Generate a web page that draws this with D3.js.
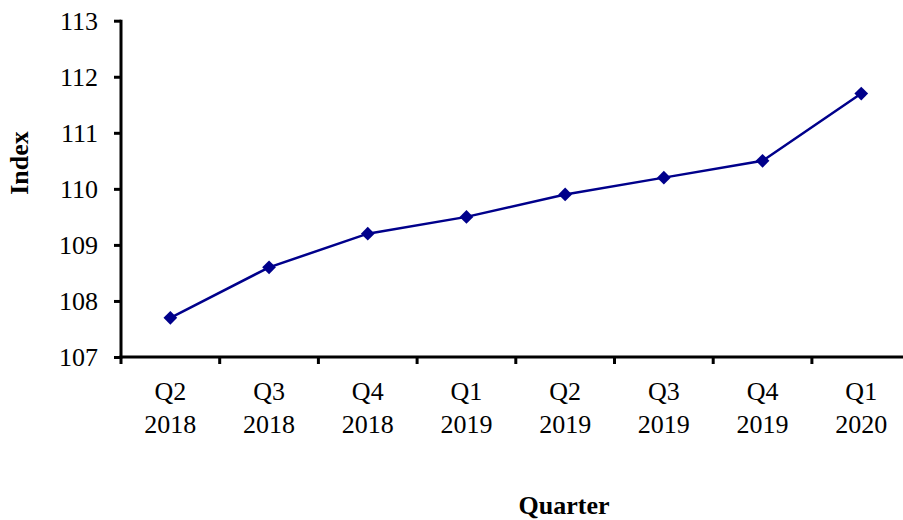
<!DOCTYPE html>
<html>
<head>
<meta charset="utf-8">
<script src="https://cdn.jsdelivr.net/npm/d3@7"></script>
<style>
  body { margin: 0; background: #fff; }
  text { font-family: "Liberation Serif", "Times New Roman", serif; }
</style>
</head>
<body>
<script>
// chart data
var quarters = ['Q2', 'Q3', 'Q4', 'Q1', 'Q2', 'Q3', 'Q4', 'Q1'];
var years = ['2018', '2018', '2018', '2019', '2019', '2019', '2019', '2020'];
var values = [107.7, 108.6, 109.2, 109.5, 109.9, 110.2, 110.5, 111.7];
var yTicks = [107, 108, 109, 110, 111, 112, 113];

var width = 903;
var height = 520;

var svg = d3.select('body').append('svg')
  .attr('width', width)
  .attr('height', height);

// x positions by category index
var keys = d3.range(values.length);
var x = d3.scaleBand()
  .domain(keys)
  .range([121, 121 + 98.7 * values.length]);

var y = d3.scaleLinear()
  .domain([107, 113])
  .range([357, 20.7]);

// y axis
var yAxis = svg.append('g')
  .attr('transform', 'translate(121,0)')
  .call(d3.axisLeft(y).tickValues(yTicks).tickSize(7).tickPadding(16).tickFormat(d3.format('d')));
yAxis.select('.domain')
  .style('stroke-width', '3px')
  .attr('d', 'M0,' + (y(113) - 1) + 'V' + (y(107) + 1.5));
yAxis.selectAll('.tick line').style('stroke-width', '3px');
yAxis.selectAll('.tick text')
  .attr('font-size', 26)
  .attr('dy', '0.34em')
  .attr('fill', '#000');

// x axis: ticks between categories
var xAxis = svg.append('g')
  .attr('transform', 'translate(0,357)');
xAxis.append('line')
  .attr('x1', 119.5).attr('x2', width)
  .attr('stroke', '#000').style('stroke-width', '3px');
xAxis.selectAll('.xtick')
  .data(keys)
  .enter().append('line')
  .attr('x1', function(d) { return x(d); })
  .attr('x2', function(d) { return x(d); })
  .attr('y1', 0).attr('y2', 7)
  .attr('stroke', '#000').style('stroke-width', '3px');

var labels = xAxis.selectAll('.xlabel')
  .data(keys)
  .enter().append('text')
  .attr('text-anchor', 'middle')
  .attr('font-size', 26)
  .attr('x', function(d) { return x(d) + x.bandwidth() / 2; });
labels.append('tspan')
  .attr('x', function(d) { return x(d) + x.bandwidth() / 2; })
  .attr('y', 43)
  .text(function(d) { return quarters[d]; });
labels.append('tspan')
  .attr('x', function(d) { return x(d) + x.bandwidth() / 2; })
  .attr('y', 76)
  .text(function(d) { return years[d]; });

// axis titles
svg.append('text')
  .attr('transform', 'translate(28,163) rotate(-90)')
  .attr('text-anchor', 'middle')
  .attr('font-size', 26)
  .attr('font-weight', 'bold')
  .text('Index');

svg.append('text')
  .attr('x', 564)
  .attr('y', 514)
  .attr('text-anchor', 'middle')
  .attr('font-size', 26)
  .attr('font-weight', 'bold')
  .text('Quarter');

// line
var line = d3.line()
  .x(function(d, i) { return x(i) + x.bandwidth() / 2; })
  .y(function(d) { return y(d); });

svg.append('path')
  .datum(values)
  .attr('d', line)
  .attr('fill', 'none')
  .attr('stroke', '#00008B')
  .attr('stroke-width', 2.5);

// diamond markers
svg.selectAll('.marker')
  .data(values)
  .enter().append('path')
  .attr('d', d3.symbol().type(d3.symbolDiamond2).size(120))
  .attr('transform', function(d, i) {
    return 'translate(' + (x(i) + x.bandwidth() / 2) + ',' + y(d) + ')';
  })
  .attr('fill', '#00008B');
</script>
</body>
</html>
